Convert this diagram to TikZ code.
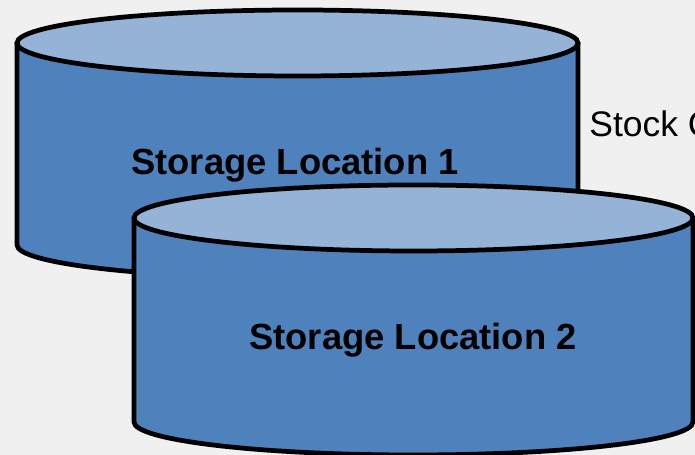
\documentclass[tikz,border=0pt]{standalone}
\usepackage{fontspec}
\setmainfont{Liberation Sans}
\usepackage{tikz}
\usetikzlibrary{positioning}
\definecolor{stbg}{RGB}{240,240,240}
\definecolor{stside}{RGB}{79,129,189}
\definecolor{sttop}{RGB}{149,179,215}
\tikzset{
  drumside/.style={draw=black,line width=2.7pt,fill=stside,line join=round},
  drumtop/.style={draw=black,line width=2.7pt,fill=sttop},
  drumlabel/.style={font=\fontsize{20.7}{24}\selectfont\bfseries,anchor=base,inner sep=0pt},
  sidelabel/.style={font=\fontsize{20.2}{24}\selectfont,anchor=base west,inner sep=0pt}
}
\begin{document}
\begin{tikzpicture}[x=0.02cm,y=0.02cm]
\useasboundingbox (0,0) rectangle (695,455);
\fill[stbg] (0,0) rectangle (695,455);
\clip (0,0) rectangle (695,455);
% Storage location 1
\draw[drumside] (17,412) -- (17,210) arc[start angle=180,end angle=360,x radius=280.5,y radius=33] -- (578,412) -- cycle;
\draw[drumtop] (297.5,412) ellipse [x radius=280.5,y radius=33];
\node[drumlabel] (loc1) at (295,280) {Storage Location 1};
% side text
\node[sidelabel] (stock) at (589,318) {Stock C};
% Storage location 2
\draw[drumside] (134,237) -- (134,33) arc[start angle=180,end angle=360,x radius=279.5,y radius=33] -- (693,237) -- cycle;
\draw[drumtop] (413.5,237) ellipse [x radius=279.5,y radius=33];
\node[drumlabel] (loc2) at (413,105) {Storage Location 2};
\end{tikzpicture}
\end{document}
